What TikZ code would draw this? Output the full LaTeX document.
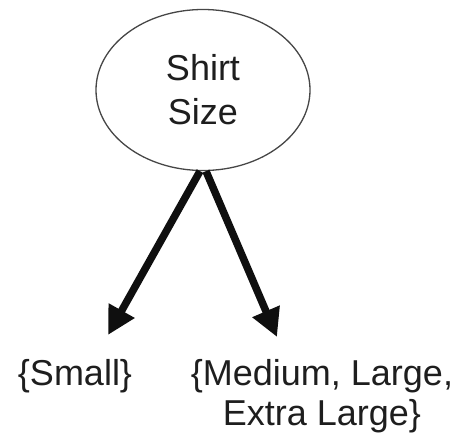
\documentclass[tikz,border=0pt]{standalone}
\usepackage{fontspec}
\setmainfont{Liberation Sans}
\usetikzlibrary{arrows.meta, shapes.geometric}
\definecolor{inkgray}{RGB}{30,30,30}
\definecolor{rimgray}{RGB}{70,70,70}
\definecolor{branchblack}{RGB}{15,15,15}

\tikzset{
  attribute/.style={ellipse, draw=rimgray, line width=1.3pt, inner sep=0pt,
                    minimum width=214pt, minimum height=161pt, text=inkgray,
                    align=center, font=\fontsize{36}{44}\selectfont},
  valueset/.style={text=inkgray, align=center, inner sep=0pt,
                   font=\fontsize{36}{40}\selectfont},
  branch/.style={->, line width=7.5pt, branchblack}
}

\begin{document}
\begin{tikzpicture}[>={Triangle[length=28pt, width=28pt]}, x=1pt, y=-1pt]
  \useasboundingbox (0,0) rectangle (460,442);

  % Split attribute
  \node[attribute] (shirtsize) at (203,90) {Shirt\\Size};

  % Value sets
  \node[valueset, anchor=base] (small) at (75,385) {\{Small\}};
  \node[valueset] (rest) at (322,396) {\{Medium, Large,\\Extra Large\}};

  % Arrow ends
  \coordinate (smalltip) at (108,335);
  \coordinate (resttip) at (277,337);

  % Branches
  \draw[branch] ([xshift=-3pt]shirtsize.south) -- (smalltip);
  \draw[branch] ([xshift=3pt]shirtsize.south) -- (resttip);
\end{tikzpicture}
\end{document}
